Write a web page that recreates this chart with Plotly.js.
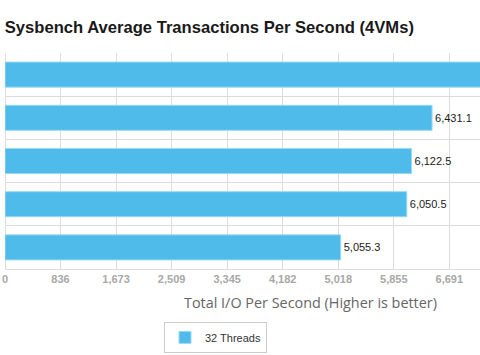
<!DOCTYPE html>
<html>
<head>
<meta charset="utf-8">
<script src="https://cdn.plot.ly/plotly-3.0.1.min.js"></script>
<style>html,body{margin:0;padding:0;overflow:hidden;background:#fff}</style>
</head>
<body>
<div id="chart" style="width:480px;height:355px"></div>
<script>
// Data (top to bottom)
const categories = ["Config 1", "Config 2", "Config 3", "Config 4", "Config 5"];
const values = [7420.0, 6431.1, 6122.5, 6050.5, 5055.3];
const seriesName = "32 Threads";
const tickValues = [0, 836.375, 1672.75, 2509.125, 3345.5, 4181.875, 5018.25, 5854.625, 6691];
const tickLabels = ["0", "836", "1,673", "2,509", "3,345", "4,182", "5,018", "5,855", "6,691"];
const xMax = 7153;

const fmt = v => v.toLocaleString("en-US", {minimumFractionDigits: 1, maximumFractionDigits: 1});
const labels = values.map(v => v > xMax ? "" : fmt(v));

const trace = {
  type: "bar",
  orientation: "h",
  x: values,
  y: categories,
  name: seriesName,
  marker: {color: "#4FBBEB", line: {color: "#9ad8f4", width: 1}},
  text: labels,
  textposition: "outside",
  cliponaxis: true,
  textfont: {family: "Liberation Sans, Arial, sans-serif", size: 11, color: "#1a1a1a"},
  hoverinfo: "x+y"
};

const layout = {
  width: 480, height: 355,
  margin: {l: 5, r: 0, t: 53, b: 86},
  paper_bgcolor: "#fff", plot_bgcolor: "#fff",
  title: {
    text: "Sysbench Average Transactions Per Second (4VMs)",
    font: {family: "Liberation Sans, Arial, sans-serif", size: 16.6, color: "#1a1a1a", weight: "bold"},
    x: 0.01, xanchor: "left", xref: "container",
    y: 1 - 27/355, yanchor: "middle", yref: "container"
  },
  xaxis: {
    range: [0, xMax],
    tickmode: "array", tickvals: tickValues, ticktext: tickLabels,
    tickfont: {family: "Liberation Sans, Arial, sans-serif", size: 11, color: "#a8a8a8", weight: "bold"},
    showgrid: true, gridcolor: "#dcdcdc", gridwidth: 1,
    zeroline: true, zerolinecolor: "#dcdcdc", zerolinewidth: 1,
    showline: true, linecolor: "#dcdcdc", linewidth: 1,
    ticks: "", fixedrange: true
  },
  yaxis: {
    type: "category", autorange: "reversed",
    showticklabels: false, ticks: "",
    tickson: "boundaries",
    showgrid: true, gridcolor: "#dcdcdc", gridwidth: 1,
    showline: false, zeroline: false, fixedrange: true
  },
  bargap: 0.42,
  showlegend: true,
  legend: {
    x: (164 - 5) / 475, xanchor: "left", y: -0.245, yanchor: "top",
    orientation: "h", itemwidth: 30,
    bordercolor: "#cccccc", borderwidth: 1, bgcolor: "#fff",
    font: {family: "Liberation Sans, Arial, sans-serif", size: 11, color: "#333"}
  },
  annotations: [{
    text: "Total I/O Per Second (Higher is better)",
    xref: "paper", yref: "paper",
    x: (310 - 5) / 475, y: (269 - 302) / 216,
    xanchor: "center", yanchor: "middle", showarrow: false,
    font: {family: "Open Sans, sans-serif", size: 14.4, color: "#666"}
  }]
};

Plotly.newPlot("chart", [trace], layout, {displayModeBar: false, staticPlot: true});
</script>
</body>
</html>
